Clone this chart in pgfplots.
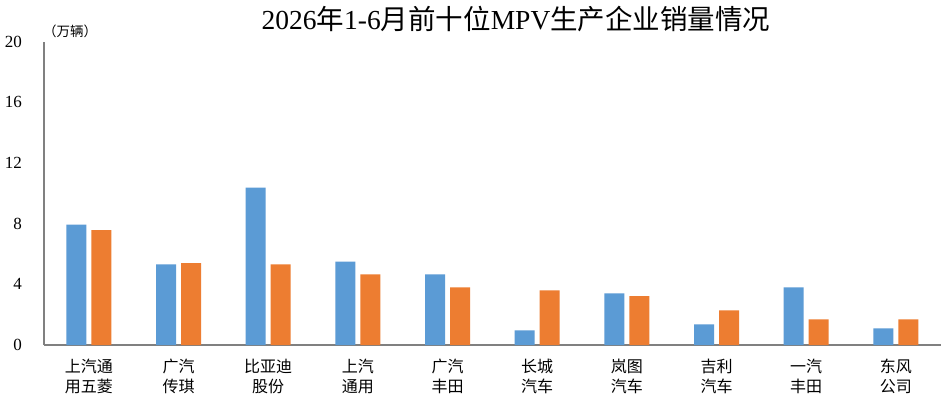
\documentclass[border=0pt]{standalone}
\usepackage{fontspec}
\setmainfont{Liberation Serif}
\newfontfamily\cjk{Noto Sans CJK SC}
\usepackage{pgfplots}
\pgfplotsset{compat=1.18}
\definecolor{xlblue}{RGB}{91,155,213}
\definecolor{xlorange}{RGB}{237,125,49}
\definecolor{axgray}{RGB}{128,128,128}
\begin{document}
\begin{tikzpicture}[x=1pt,y=1pt]
\useasboundingbox (0,0) rectangle (945,402);
\fill[white] (0,0) rectangle (945,402);
\begin{axis}[
  at={(44pt,57pt)}, anchor=south west,
  scale only axis, width=896.7pt, height=303.5pt,
  xmin=-0.5, xmax=9.5, ymin=0, ymax=20,
  ybar=5pt, bar width=20pt,
  axis lines=left,
  axis line style={-, draw=axgray, line width=2pt},
  xtick={0,1,2,3,4,5,6,7,8,9},
  xticklabels={{上汽通\\用五菱},{广汽\\传琪},{比亚迪\\股份},{上汽\\通用},{广汽\\丰田},{长城\\汽车},{岚图\\汽车},{吉利\\汽车},{一汽\\丰田},{东风\\公司}},
  xticklabel style={align=center, font=\cjk\fontsize{16}{20}\selectfont, inner sep=0pt, yshift=-13.5pt},
  ytick={0,4,8,12,16,20},
  yticklabel style={anchor=east, inner sep=0pt, xshift=-22pt, font=\fontsize{17}{19}\selectfont},
  /pgf/number format/assume math mode=true,
  major tick length=0pt,
  tick style={draw=none},
  clip=false,
]
\addplot[fill=xlblue, draw=none] coordinates {(0,7.94) (1,5.31) (2,10.37) (3,5.50) (4,4.65) (5,0.96) (6,3.40) (7,1.36) (8,3.80) (9,1.10)};
\addplot[fill=xlorange, draw=none] coordinates {(0,7.57) (1,5.39) (2,5.31) (3,4.65) (4,3.80) (5,3.60) (6,3.22) (7,2.28) (8,1.69) (9,1.69)};
\end{axis}
\node[font=\fontsize{27.5}{32}\selectfont, inner sep=0pt] at (516,383) {2026{\cjk 年}1-6{\cjk 月前十位}MPV{\cjk 生产企业销量情况}};
\node[font=\cjk\fontsize{13.5}{16}\selectfont, inner sep=0pt] at (70,371) {（万辆）};
\end{tikzpicture}
\end{document}
